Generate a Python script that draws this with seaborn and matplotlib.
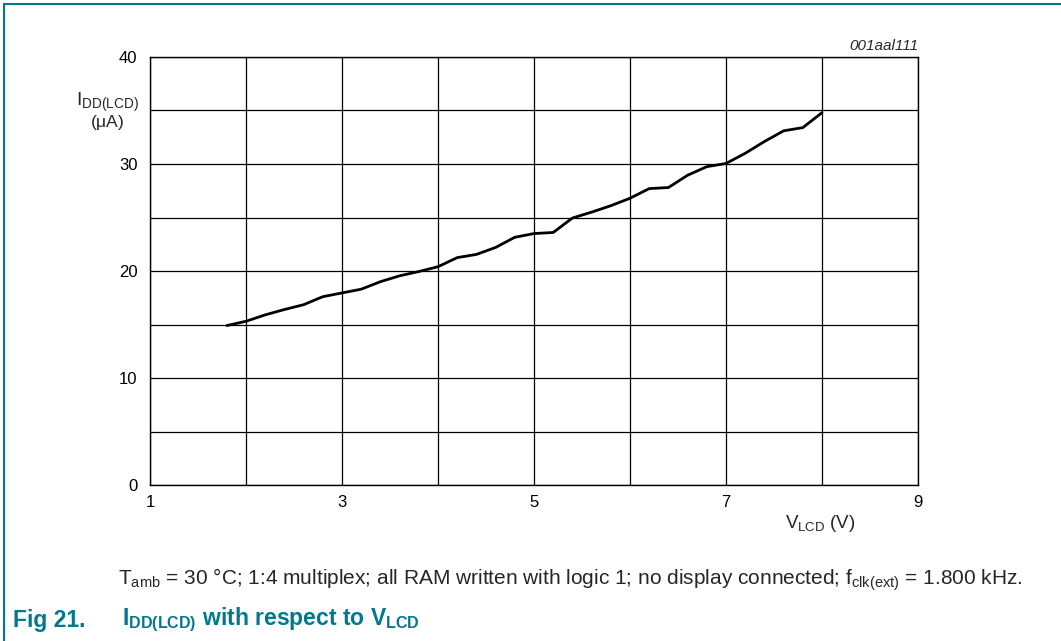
import pandas as pd
import matplotlib.pyplot as plt
import seaborn as sns

# Data (V_LCD in volts, I_DD(LCD) in microamps)
v_lcd = [1.8, 2.0, 2.2, 2.4, 2.6, 2.8, 3.0, 3.2, 3.4, 3.6, 3.8, 4.0, 4.2, 4.4, 4.6, 4.8,
         5.0, 5.2, 5.4, 5.6, 5.8, 6.0, 6.2, 6.4, 6.6, 6.8, 7.0, 7.2, 7.4, 7.6, 7.8, 8.0]
i_dd = [14.9, 15.3, 15.9, 16.4, 16.85, 17.6, 17.95, 18.3, 19.0, 19.55, 19.95, 20.4, 21.25, 21.55, 22.2, 23.15,
        23.5, 23.6, 24.95, 25.5, 26.1, 26.8, 27.7, 27.8, 28.95, 29.75, 30.05, 31.0, 32.1, 33.1, 33.4, 34.8]
x_ticks = [1, 3, 5, 7, 9]
y_ticks = [0, 10, 20, 30, 40]

teal = '#00798c'

sns.set_theme(style="white")
plt.rcParams['font.family'] = ['Liberation Sans', 'DejaVu Sans']
plt.rcParams['mathtext.fontset'] = 'custom'
plt.rcParams['mathtext.rm'] = 'Liberation Sans'
plt.rcParams['mathtext.it'] = 'Liberation Sans:italic'
plt.rcParams['mathtext.bf'] = 'Liberation Sans:bold'

df = pd.DataFrame({'V': v_lcd, 'I': i_dd})

W, H = 1061, 641
fig = plt.figure(figsize=(W / 100, H / 100), dpi=100)
ax = fig.add_axes([150 / W, 1 - 485 / H, (918 - 150) / W, (485 - 57) / H])

sns.lineplot(data=df, x='V', y='I', ax=ax, color='black', linewidth=2.0)

ax.set_xlim(1, 9)
ax.set_ylim(0, 40)
ax.set_xticks(x_ticks)
ax.set_yticks(y_ticks)
ax.set_xticks(range(1, 10), minor=True)
ax.set_yticks(range(0, 41, 5), minor=True)
ax.grid(True, which='both', color='black', linewidth=0.9)
ax.tick_params(which='both', length=0, labelsize=12, colors='black')
ax.tick_params(axis='y', pad=9)
ax.tick_params(axis='x', pad=7)
for s in ax.spines.values():
    s.set_color('black')
    s.set_linewidth(1.0)
ax.set_xlabel('')
ax.set_ylabel('')

# axis labels as in the datasheet
fig.text(107 / W, 1 - 102 / H, r'$\mathrm{I_{DD(LCD)}}$', ha='center', va='center', fontsize=14)
fig.text(107 / W, 1 - 123 / H, r'($\mathrm{\mu}$A)', ha='center', va='center', fontsize=12.5)
fig.text(820 / W, 1 - 523 / H, r'$\mathrm{V_{LCD}}$ (V)', ha='center', va='center', fontsize=13.5)
fig.text(918 / W, 1 - 46 / H, '001aal111', ha='right', va='center', fontsize=11, style='italic')

# caption
fig.text(118 / W, 1 - 580 / H,
         r'T$_{\mathrm{amb}}$ = 30 °C; 1:4 multiplex; all RAM written with logic 1; no display connected; '
         r'f$_{\mathrm{clk(ext)}}$ = 1.800 kHz.',
         ha='left', va='center', fontsize=15)
fig.text(13 / W, 1 - 620 / H, 'Fig 21.', ha='left', va='center', fontsize=16.5,
         fontweight='bold', color=teal)
fig.text(122 / W, 1 - 620 / H, r'$\mathbf{I_{DD(LCD)}}$ with respect to $\mathbf{V_{LCD}}$',
         ha='left', va='center', fontsize=16.5, fontweight='bold', color=teal)

# frame lines (top and left)
fig.add_artist(plt.Line2D([4 / W, 1], [1 - 4 / H, 1 - 4 / H], color=teal, linewidth=1.5))
fig.add_artist(plt.Line2D([4 / W, 4 / W], [0, 1 - 4 / H], color=teal, linewidth=1.5))

fig.savefig('out.png', dpi=100)
